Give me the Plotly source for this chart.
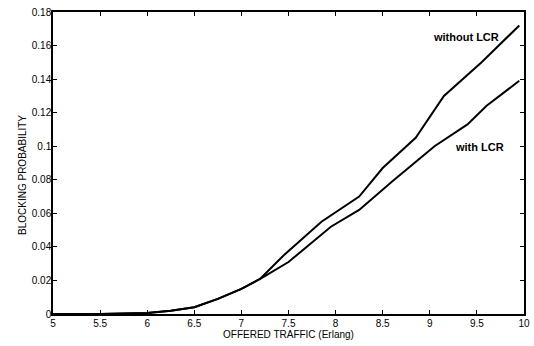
import plotly.graph_objects as go

x_without = [5, 5.5, 6, 6.25, 6.5, 6.75, 7, 7.2, 7.45, 7.85, 8.25, 8.5, 8.85, 9.15, 9.55, 9.95]
y_without = [0, 0, 0.0006, 0.002, 0.004, 0.009, 0.015, 0.021, 0.035, 0.055, 0.070, 0.087, 0.105, 0.130, 0.150, 0.172]

x_with = [5, 5.5, 6, 6.25, 6.5, 6.75, 7, 7.2, 7.5, 7.95, 8.25, 8.6, 9.05, 9.4, 9.6, 9.95]
y_with = [0, 0, 0.0006, 0.002, 0.004, 0.009, 0.015, 0.021, 0.031, 0.052, 0.062, 0.079, 0.100, 0.113, 0.124, 0.139]

x_ticks = [5, 5.5, 6, 6.5, 7, 7.5, 8, 8.5, 9, 9.5, 10]
x_ticklabels = ["5", "5.5", "6", "6.5", "7", "7.5", "8", "8.5", "9", "9.5", "10"]
y_ticks = [0, 0.02, 0.04, 0.06, 0.08, 0.1, 0.12, 0.14, 0.16, 0.18]
y_ticklabels = ["0", "0.02", "0.04", "0.06", "0.08", "0.1", "0.12", "0.14", "0.16", "0.18"]

FONT = "Liberation Sans, Arial, sans-serif"

fig = go.Figure()
fig.add_trace(go.Scatter(x=x_without, y=y_without, mode="lines",
                         line=dict(color="black", width=2), name="without LCR"))
fig.add_trace(go.Scatter(x=x_with, y=y_with, mode="lines",
                         line=dict(color="black", width=2), name="with LCR"))

axis_common = dict(showline=True, linecolor="black", linewidth=1.5, mirror="ticks",
                   ticks="inside", ticklen=4, tickcolor="black", tickwidth=1,
                   showgrid=False, zeroline=False, automargin=False,
                   ticklabeloverflow="allow",
                   tickfont=dict(family=FONT, size=10, color="black"))

fig.update_xaxes(range=[5, 10], tickvals=x_ticks, ticktext=x_ticklabels,
                 ticklabelstandoff=-1, **axis_common)
fig.update_yaxes(range=[0, 0.18], tickvals=y_ticks, ticktext=y_ticklabels,
                 ticklabelstandoff=-2, **axis_common)

fig.add_annotation(x=9.38, y=0.165, text="<b>without LCR</b>", showarrow=False,
                   font=dict(family=FONT, size=11, color="black"))
fig.add_annotation(x=9.53, y=0.0995, text="<b>with LCR</b>", showarrow=False,
                   font=dict(family=FONT, size=11, color="black"))
fig.add_annotation(xref="paper", yref="paper", x=0.5, y=-0.067, yanchor="middle",
                   text="OFFERED TRAFFIC (Erlang)", showarrow=False,
                   font=dict(family=FONT, size=10, color="black"))
fig.add_annotation(xref="paper", yref="paper", x=-0.066, y=0.46, xanchor="center",
                   textangle=-90, text="BLOCKING PROBABILITY", showarrow=False,
                   font=dict(family=FONT, size=10, color="black"))

fig.update_layout(width=534, height=346, margin=dict(l=53, r=10, t=12, b=32),
                  paper_bgcolor="white", plot_bgcolor="white", showlegend=False)

# remove the default 8px page margin so the figure fills the window exactly
fig.write_html("out.html", config={"displayModeBar": False},
               post_script="document.body.style.margin='0px';")
